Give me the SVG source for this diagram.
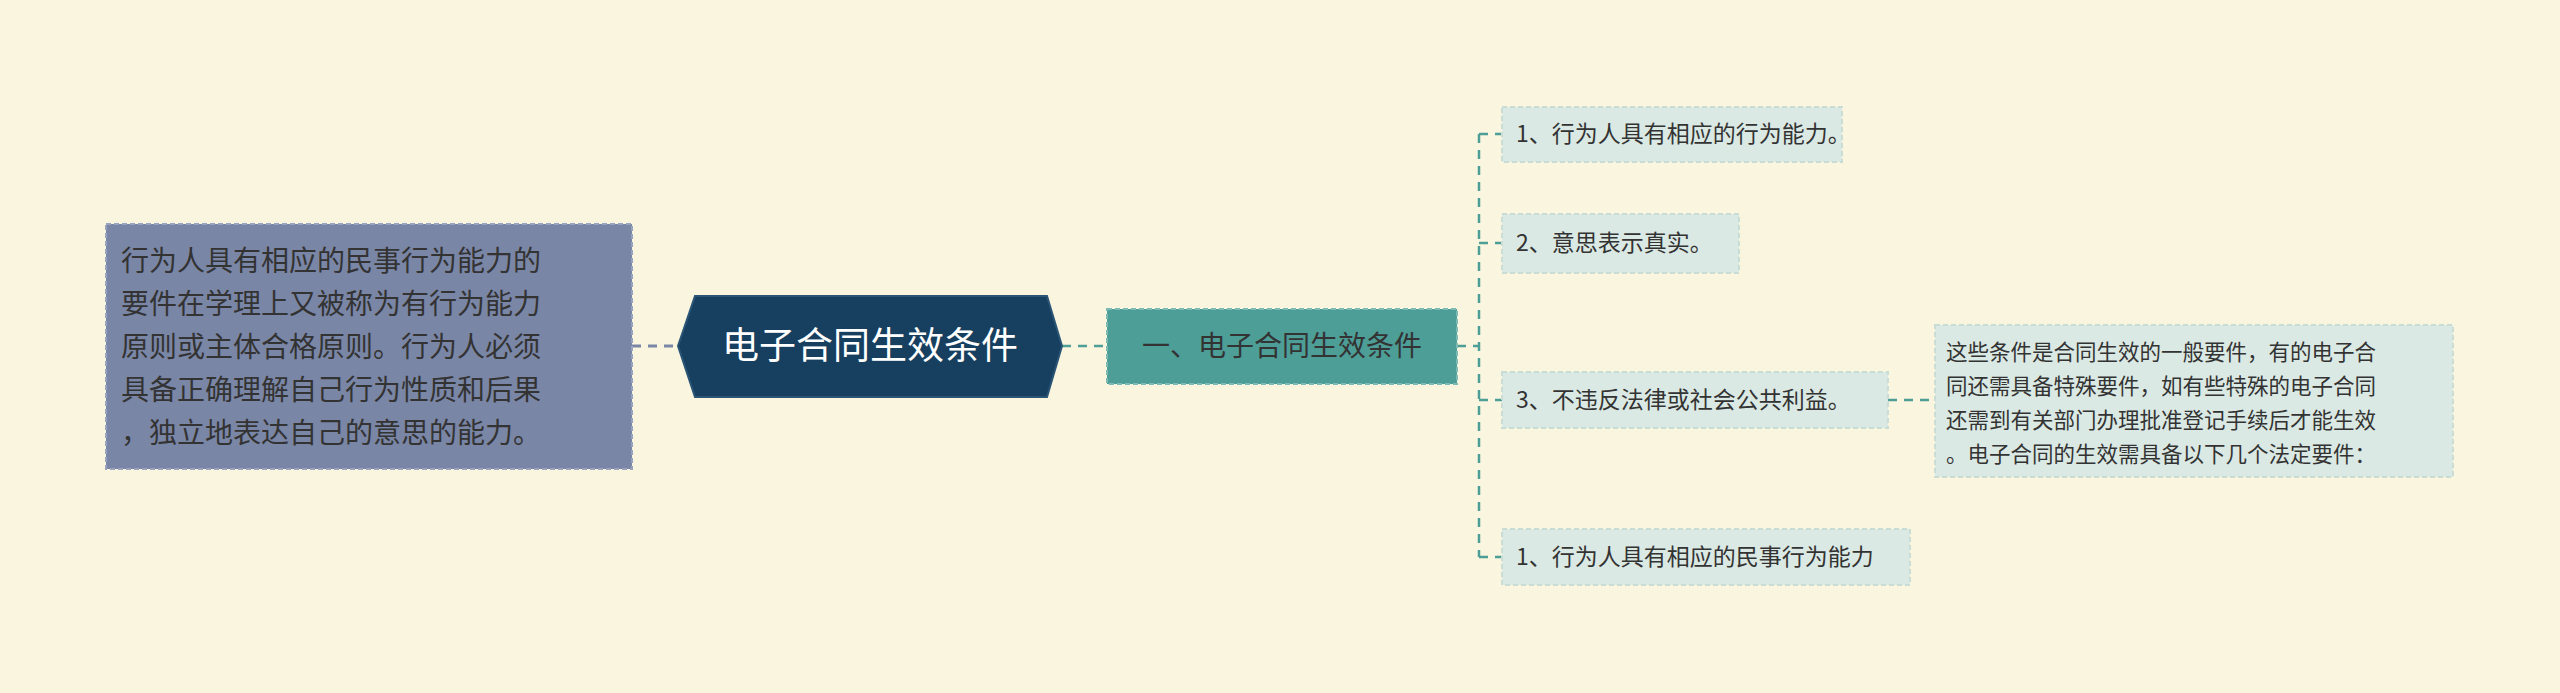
<svg xmlns="http://www.w3.org/2000/svg" width="2560" height="693" viewBox="0 0 2560 693">
<style>
text{font-family:"Noto Sans CJK SC","Noto Sans",sans-serif;fill:#333}
.leaf{fill:#dbe9e4;stroke:#c9dcd6;stroke-width:2;stroke-dasharray:5 3}
.lt{font-size:23px}
.c{fill:none;stroke:#4e9e98;stroke-width:2.5;stroke-dasharray:9 7}
</style>
<rect width="2560" height="693" fill="#faf5de"/>
<g id="connectors">
<path d="M632 346H678" stroke="#7a86a6" stroke-width="3" stroke-dasharray="9 7" fill="none"/>
<path d="M1062 346H1107" class="c" stroke-dasharray="none"/>
<path d="M1457 346H1479M1479 134V557M1479 134H1502M1479 243H1502M1479 400H1502M1479 557H1502" class="c"/>
<path d="M1888 400H1935" class="c"/>
</g>
<g id="left">
<rect x="106" y="224" width="526" height="245" fill="#7a86a6" stroke="#9aa3bd" stroke-width="2" stroke-dasharray="5 3"/>
<text font-size="28"><tspan x="121" y="271">行为人具有相应的民事行为能力的</tspan><tspan x="121" y="314">要件在学理上又被称为有行为能力</tspan><tspan x="121" y="357">原则或主体合格原则。行为人必须</tspan><tspan x="121" y="400">具备正确理解自己行为性质和后果</tspan><tspan x="121" y="443">，独立地表达自己的意思的能力。</tspan></text>
</g>
<g id="center">
<polygon points="695,296 1047,296 1062,346 1047,397 695,397 678,346" fill="#173f5f" stroke="#2b5577" stroke-width="2"/>
<text x="870" y="359" font-size="37" text-anchor="middle" style="fill:#fff">电子合同生效条件</text>
</g>
<g id="branch">
<rect x="1107" y="309" width="350" height="75" fill="#4e9e98" stroke="#7dbab5" stroke-width="2" stroke-dasharray="5 3"/>
<text x="1282" y="356" font-size="28" text-anchor="middle">一、电子合同生效条件</text>
</g>
<g id="item1"><rect class="leaf" x="1502" y="107" width="340" height="55"/><text class="lt" x="1516" y="142">1、行为人具有相应的行为能力。</text></g>
<g id="item2"><rect class="leaf" x="1502" y="214" width="237" height="59"/><text class="lt" x="1516" y="251">2、意思表示真实。</text></g>
<g id="item3"><rect class="leaf" x="1502" y="372" width="386" height="56"/><text class="lt" x="1516" y="408">3、不违反法律或社会公共利益。</text></g>
<g id="item4"><rect class="leaf" x="1502" y="529" width="408" height="56"/><text class="lt" x="1516" y="565">1、行为人具有相应的民事行为能力</text></g>
<g id="note"><rect class="leaf" x="1935" y="325" width="518" height="152"/>
<text font-size="21.5"><tspan x="1946" y="360">这些条件是合同生效的一般要件，有的电子合</tspan><tspan x="1946" y="394">同还需具备特殊要件，如有些特殊的电子合同</tspan><tspan x="1946" y="428">还需到有关部门办理批准登记手续后才能生效</tspan><tspan x="1946" y="462">。电子合同的生效需具备以下几个法定要件：</tspan></text></g>
</svg>
